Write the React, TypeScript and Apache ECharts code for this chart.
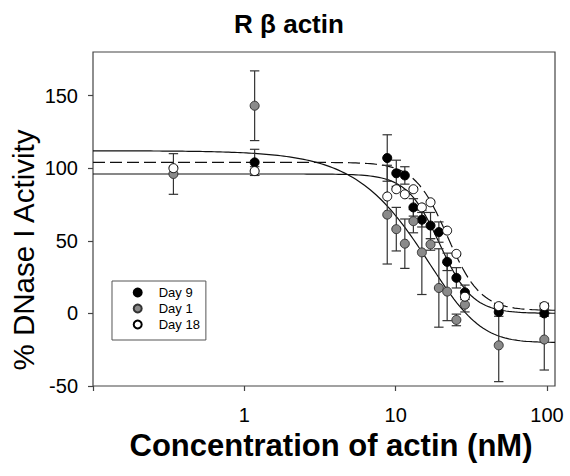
import React, { useEffect, useRef } from 'react';
import * as echarts from 'echarts';

// ---- data ----
const concentrations = [0.34, 1.17, 8.8, 10.1, 11.5, 13.1, 14.9, 17.0, 19.3, 21.9, 25.2, 28.7, 48, 96];
const day9Values: (number | null)[] = [null, 104, 107, 96.5, 95, 73, 64.5, 60.5, 56, 35.5, 24.5, 14.5, 1, 0];
const day9Errors = [0, 9, 16, 9, 6, 6, 5, 9, 7, 6, 7, 5, 3, 2];
const day1Values: (number | null)[] = [96, 143, 68, 58, 48, 63.5, 42, 47.5, 17.5, 15, -4.5, 6, -22, -18];
const day1Errors = [14, 24, 34, 15, 17, 8, 29, 4, 27, 20, 4, 5, 25, 21];
const day18Values: (number | null)[] = [100, 98, 80.5, 85.5, 82, 85.5, 73, 76.5, null, 57, 41, 11.5, 5, 5];
const day18Errors = [0, 3, 0, 0, 0, 0, 0, 0, 0, 0, 0, 0, 2, 2];

// sigmoid fit parameters (Day 9, Day 1, Day 18)
const fitTop = [96, 112, 104];
const fitBottom = [0, -20, 2];
const fitEc50 = [19.5, 40, 22];
const fitHill = [4, 1.6, 4];
const fitAsym = [1, 4, 1];

const seriesNames = ['Day 9', 'Day 1', 'Day 18'];
const xTickLabels = ['1', '10', '100'];
const yTicks = [-50, 0, 50, 100, 150];

const X_MIN = 0.1;
const X_MAX = 113;
const Y_MIN = -50;
const Y_MAX = 180;

const W = 570;
const H = 476;
const GRID_LEFT = 93;
const GRID_RIGHT = 15;
const GRID_TOP = 52;
const GRID_BOTTOM = 90;

const FONT = 'Liberation Sans, Arial, sans-serif';

function fitCurve(k: number): number[][] {
  const pts: number[][] = [];
  const n = 160;
  const a = Math.log10(X_MIN);
  const b = Math.log10(X_MAX);
  for (let i = 0; i <= n; i++) {
    const x = Math.pow(10, a + ((b - a) * i) / n);
    const u = Math.pow(x / fitEc50[k], fitHill[k]);
    const y = fitBottom[k] + (fitTop[k] - fitBottom[k]) / Math.pow(1 + u, fitAsym[k]);
    pts.push([x, y]);
  }
  return pts;
}

function errorSeries(vals: (number | null)[], errs: number[], z: number) {
  const data: number[][] = [];
  vals.forEach((v, i) => {
    if (v != null && errs[i] > 0) data.push([concentrations[i], v - errs[i], v + errs[i]]);
  });
  return {
    type: 'custom',
    xAxisIndex: 0,
    yAxisIndex: 0,
    z,
    silent: true,
    encode: { x: 0, y: [1, 2] },
    data,
    renderItem: (params: any, api: any) => {
      const x = api.value(0);
      const lo = api.coord([x, api.value(1)]);
      const hi = api.coord([x, api.value(2)]);
      const w = 4.7;
      const st = { stroke: '#333', lineWidth: 1.2 };
      return {
        type: 'group',
        children: [
          { type: 'line', shape: { x1: lo[0], y1: lo[1], x2: hi[0], y2: hi[1] }, style: st },
          { type: 'line', shape: { x1: lo[0] - w, y1: lo[1], x2: lo[0] + w, y2: lo[1] }, style: st },
          { type: 'line', shape: { x1: hi[0] - w, y1: hi[1], x2: hi[0] + w, y2: hi[1] }, style: st },
        ],
      };
    },
  };
}

function pointData(vals: (number | null)[]) {
  const out: number[][] = [];
  vals.forEach((v, i) => {
    if (v != null) out.push([concentrations[i], v]);
  });
  return out;
}

export default function App() {
  const ref = useRef<HTMLDivElement>(null);

  useEffect(() => {
    document.body.style.margin = '0';
    if (!ref.current) return;
    const chart = echarts.init(ref.current, undefined, { renderer: 'svg', width: W, height: H });

    const plotW = W - GRID_LEFT - GRID_RIGHT;
    const plotH = H - GRID_TOP - GRID_BOTTOM;
    const pxPerDecade = plotW / (Math.log10(X_MAX) - Math.log10(X_MIN));
    const tickGridRight = GRID_RIGHT + (Math.log10(X_MAX) - 2) * pxPerDecade;
    const tickGridTop = GRID_TOP + ((Y_MAX - yTicks[yTicks.length - 1]) / (Y_MAX - Y_MIN)) * plotH;

    const markerColors = ['#000000', '#8a8a8a', '#ffffff'];
    const markerBorders = ['#000000', '#333333', '#000000'];
    const valuesList = [day9Values, day1Values, day18Values];
    const errorsList = [day9Errors, day1Errors, day18Errors];

    const series: any[] = [];
    [0, 1, 2].forEach((k) => {
      series.push({
        type: 'line',
        name: 'fit ' + seriesNames[k],
        xAxisIndex: 0,
        yAxisIndex: 0,
        data: fitCurve(k),
        showSymbol: false,
        symbol: 'none',
        silent: true,
        z: 1,
        lineStyle: { color: '#111', width: 1.2, type: k === 2 ? [12, 5] : 'solid' },
      });
    });
    [0, 1, 2].forEach((k) => {
      series.push(errorSeries(valuesList[k], errorsList[k], 2));
    });
    [0, 1, 2].forEach((k) => {
      series.push({
        type: 'scatter',
        name: seriesNames[k],
        xAxisIndex: 0,
        yAxisIndex: 0,
        data: pointData(valuesList[k]),
        symbol: 'circle',
        symbolSize: 9,
        z: 3 + k,
        itemStyle: { color: markerColors[k], borderColor: markerBorders[k], borderWidth: 1, opacity: 1 },
      });
    });

    const option: any = {
      animation: false,
      backgroundColor: '#ffffff',
      textStyle: { fontFamily: FONT, color: '#000' },
      grid: [
        { left: GRID_LEFT, right: GRID_RIGHT, top: GRID_TOP, bottom: GRID_BOTTOM, show: true, borderColor: '#444', borderWidth: 1.2, backgroundColor: 'transparent' },
        { left: GRID_LEFT, right: tickGridRight, top: tickGridTop, bottom: GRID_BOTTOM },
      ],
      xAxis: [
        {
          type: 'log', gridIndex: 0, min: X_MIN, max: X_MAX, logBase: 10,
          axisLine: { show: false, onZero: false }, axisTick: { show: false }, axisLabel: { show: false }, splitLine: { show: false },
        },
        {
          type: 'log', gridIndex: 1, min: X_MIN, max: 100, logBase: 10, position: 'bottom',
          axisLine: { show: false, onZero: false },
          axisTick: { show: true, length: 5, lineStyle: { color: '#444', width: 1.2 } },
          axisLabel: {
            fontSize: 20, color: '#000', margin: 19,
            formatter: (v: number) => {
              const s = String(Math.round(v));
              return xTickLabels.indexOf(s) >= 0 && v >= 0.5 ? s : '';
            },
          },
          splitLine: { show: false },
        },
      ],
      yAxis: [
        {
          type: 'value', gridIndex: 0, min: Y_MIN, max: Y_MAX,
          axisLine: { show: false, onZero: false }, axisTick: { show: false }, axisLabel: { show: false }, splitLine: { show: false },
        },
        {
          type: 'value', gridIndex: 1, min: yTicks[0], max: yTicks[yTicks.length - 1], interval: 50, position: 'left',
          axisLine: { show: false, onZero: false },
          axisTick: { show: true, length: 5, lineStyle: { color: '#444', width: 1.2 } },
          axisLabel: { fontSize: 20, color: '#000', margin: 15 },
          splitLine: { show: false },
        },
      ],
      legend: {
        orient: 'vertical',
        left: 112,
        top: 281,
        padding: [5, 6, 9, 20.7],
        itemGap: 3,
        itemWidth: 8,
        itemHeight: 8,
        borderColor: '#555',
        borderWidth: 1,
        backgroundColor: '#fff',
        data: seriesNames,
        textStyle: { fontSize: 13, color: '#000', fontFamily: FONT, padding: [0, 0, 0, 12] },
      },
      graphic: [
        {
          type: 'text', x: 289, y: 23.5, z: 10,
          style: { text: 'R \u03B2 actin', fontSize: 26, fontWeight: 'bold', fill: '#000', textAlign: 'center', textVerticalAlign: 'middle', fontFamily: FONT },
        },
        {
          type: 'text', x: 23, y: 250, rotation: Math.PI / 2, z: 10,
          style: { text: '% DNase I Activity', fontSize: 29.5, fill: '#000', textAlign: 'center', textVerticalAlign: 'middle', fontFamily: FONT },
        },
        {
          type: 'text', x: 331, y: 445, z: 10,
          style: { text: 'Concentration of actin (nM)', fontSize: 31, fontWeight: 'bold', fill: '#000', textAlign: 'center', textVerticalAlign: 'middle', fontFamily: FONT },
        },
      ],
      series,
    };
    chart.setOption(option);
    return () => chart.dispose();
  }, []);

  return <div ref={ref} style={{ width: W, height: H }} />;
}
